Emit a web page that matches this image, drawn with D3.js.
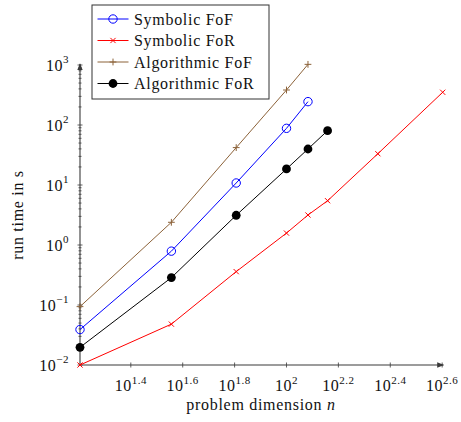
<!DOCTYPE html>
<html>
<head>
<meta charset="utf-8">
<script src="https://cdn.jsdelivr.net/npm/d3@7"></script>
<style>
  body { margin: 0; background: #fff; }
  svg { font-family: "Liberation Serif", "DejaVu Serif", serif; }
</style>
</head>
<body>
<div id="chart"></div>
<script>
// problem dimensions n (x values)
var dims = [16, 36, 64, 100, 121, 144, 225, 400]

// run times in s
var symFoF = [0.039, 0.79, 10.8, 88, 245]
var symFoR = [0.01, 0.048, 0.36, 1.58, 3.16, 5.47, 33.2, 351]
var algFoF = [0.094, 2.39, 42, 383, 1025]
var algFoR = [0.0197, 0.286, 3.13, 18.5, 39.8, 80.5]

var seriesNames = ["Symbolic FoF", "Symbolic FoR", "Algorithmic FoF", "Algorithmic FoR"]
var xTickExps = ["1.4", "1.6", "1.8", "2", "2.2", "2.4", "2.6"]
var yTickExps = ["\u22122", "\u22121", "0", "1", "2", "3"]

var W = 461, H = 422
var svg = d3.select("#chart").append("svg")
  .attr("width", W)
  .attr("height", H)

var x = d3.scaleLog().domain([16, 400]).range([80, 442.7])
var y = d3.scaleLog().domain([0.01, 1000]).range([365, 65])

var axisCol = "#3a3a3a"
var txtCol = "#111"
var fs = 16, ls = 0.7

// ---- y axis: minor + major ticks
var yMinor = []
for (var e = -2; e < 3; e++) {
  for (var m = 2; m <= 9; m++) yMinor.push(m * Math.pow(10, e))
}
svg.append("g").selectAll("line")
  .data(yMinor)
  .enter()
  .append("line")
  .attr("x1", 78.5).attr("x2", 81.5)
  .attr("y1", function(d) { return y(d) })
  .attr("y2", function(d) { return y(d) })
  .attr("stroke", axisCol).attr("stroke-width", 0.8)

var yMajor = yTickExps.map(function(s, i) { return Math.pow(10, i - 2) })
svg.append("g").selectAll("line")
  .data(yMajor)
  .enter()
  .append("line")
  .attr("x1", 77.5).attr("x2", 82.5)
  .attr("y1", function(d) { return y(d) })
  .attr("y2", function(d) { return y(d) })
  .attr("stroke", axisCol).attr("stroke-width", 0.8)

var yLab = svg.append("g").selectAll("text")
  .data(yTickExps)
  .enter()
  .append("text")
  .attr("x", 69)
  .attr("y", function(d, i) { return y(yMajor[i]) + 5.5 })
  .attr("text-anchor", "end")
  .attr("font-size", fs)
  .attr("letter-spacing", 0.5)
  .attr("fill", txtCol)
yLab.append("tspan").text("10")
yLab.append("tspan").attr("dy", -7.5).attr("font-size", 11).text(function(d) { return d })

// ---- x axis ticks
var xMajor = xTickExps.map(function(s) { return Math.pow(10, +s) })
svg.append("g").selectAll("line")
  .data(xMajor)
  .enter()
  .append("line")
  .attr("x1", function(d) { return x(d) })
  .attr("x2", function(d) { return x(d) })
  .attr("y1", 362.5).attr("y2", 367.5)
  .attr("stroke", axisCol).attr("stroke-width", 0.8)

var xLab = svg.append("g").selectAll("text")
  .data(xTickExps)
  .enter()
  .append("text")
  .attr("x", function(d, i) { return x(xMajor[i]) })
  .attr("y", 391)
  .attr("text-anchor", "middle")
  .attr("font-size", fs)
  .attr("letter-spacing", 0.5)
  .attr("fill", txtCol)
xLab.append("tspan").text("10")
xLab.append("tspan").attr("dy", -7.5).attr("font-size", 11).text(function(d) { return d })

// ---- axis lines with arrows
svg.append("defs").append("marker")
  .attr("id", "arr")
  .attr("viewBox", "0 0 10 10")
  .attr("refX", 9).attr("refY", 5)
  .attr("markerWidth", 7).attr("markerHeight", 7)
  .attr("markerUnits", "userSpaceOnUse")
  .attr("orient", "auto")
  .append("path")
  .attr("d", "M0,1 L10,5 L0,9 Z")
  .attr("fill", axisCol)

svg.append("line")
  .attr("x1", 80).attr("x2", 80)
  .attr("y1", 365).attr("y2", 64)
  .attr("stroke", axisCol).attr("stroke-width", 1.1)
  .attr("marker-end", "url(#arr)")
svg.append("line")
  .attr("x1", 80).attr("x2", 443.5)
  .attr("y1", 365).attr("y2", 365)
  .attr("stroke", axisCol).attr("stroke-width", 1.1)
  .attr("marker-end", "url(#arr)")

// ---- series
var series = [
  { vals: symFoF, col: "#0000ff", mark: "circle" },
  { vals: symFoR, col: "#ff0000", mark: "x" },
  { vals: algFoF, col: "#8c6239", mark: "plus" },
  { vals: algFoR, col: "#000000", mark: "dot" }
]

function drawMark(g, kind, col, cx, cy) {
  if (kind == "circle") {
    g.append("circle").attr("cx", cx).attr("cy", cy).attr("r", 4.2)
      .attr("fill", "none").attr("stroke", col).attr("stroke-width", 1)
  }
  if (kind == "dot") {
    g.append("circle").attr("cx", cx).attr("cy", cy).attr("r", 4.4)
      .attr("fill", col)
  }
  if (kind == "x") {
    var s = 2.6
    g.append("path")
      .attr("d", "M" + (cx - s) + "," + (cy - s) + "L" + (cx + s) + "," + (cy + s) +
        "M" + (cx - s) + "," + (cy + s) + "L" + (cx + s) + "," + (cy - s))
      .attr("stroke", col).attr("stroke-width", 1)
  }
  if (kind == "plus") {
    var s = 3.4
    g.append("path")
      .attr("d", "M" + (cx - s) + "," + cy + "L" + (cx + s) + "," + cy +
        "M" + cx + "," + (cy - s) + "L" + cx + "," + (cy + s))
      .attr("stroke", col).attr("stroke-width", 1)
  }
}

var line = d3.line()
  .x(function(d) { return x(d[0]) })
  .y(function(d) { return y(d[1]) })

series.forEach(function(s) {
  var pts = s.vals.map(function(v, i) { return [dims[i], v] })
  var g = svg.append("g")
  g.append("path")
    .attr("d", line(pts))
    .attr("fill", "none")
    .attr("stroke", s.col)
    .attr("stroke-width", 1)
  pts.forEach(function(p) { drawMark(g, s.mark, s.col, x(p[0]), y(p[1])) })
})

// ---- axis titles
svg.append("text")
  .attr("transform", "translate(23,215) rotate(-90)")
  .attr("text-anchor", "middle")
  .attr("font-size", fs)
  .attr("letter-spacing", ls)
  .attr("fill", txtCol)
  .text("run time in s")

var xt = svg.append("text")
  .attr("x", 261).attr("y", 410)
  .attr("text-anchor", "middle")
  .attr("font-size", fs)
  .attr("letter-spacing", ls)
  .attr("fill", txtCol)
xt.append("tspan").text("problem dimension ")
xt.append("tspan").attr("font-style", "italic").text("n")

// ---- legend
var leg = svg.append("g")
leg.append("rect")
  .attr("x", 92).attr("y", 5)
  .attr("width", 177).attr("height", 94)
  .attr("fill", "#fff")
  .attr("stroke", "#333").attr("stroke-width", 1)

series.forEach(function(s, i) {
  var cy = 19 + i * 21.5
  leg.append("line")
    .attr("x1", 97.5).attr("x2", 128.5)
    .attr("y1", cy).attr("y2", cy)
    .attr("stroke", s.col).attr("stroke-width", 1)
  drawMark(leg, s.mark, s.col, 113, cy)
  leg.append("text")
    .attr("x", 134).attr("y", cy + 5.5)
    .attr("font-size", fs)
    .attr("letter-spacing", ls)
    .attr("fill", txtCol)
    .text(seriesNames[i])
})
</script>
</body>
</html>
